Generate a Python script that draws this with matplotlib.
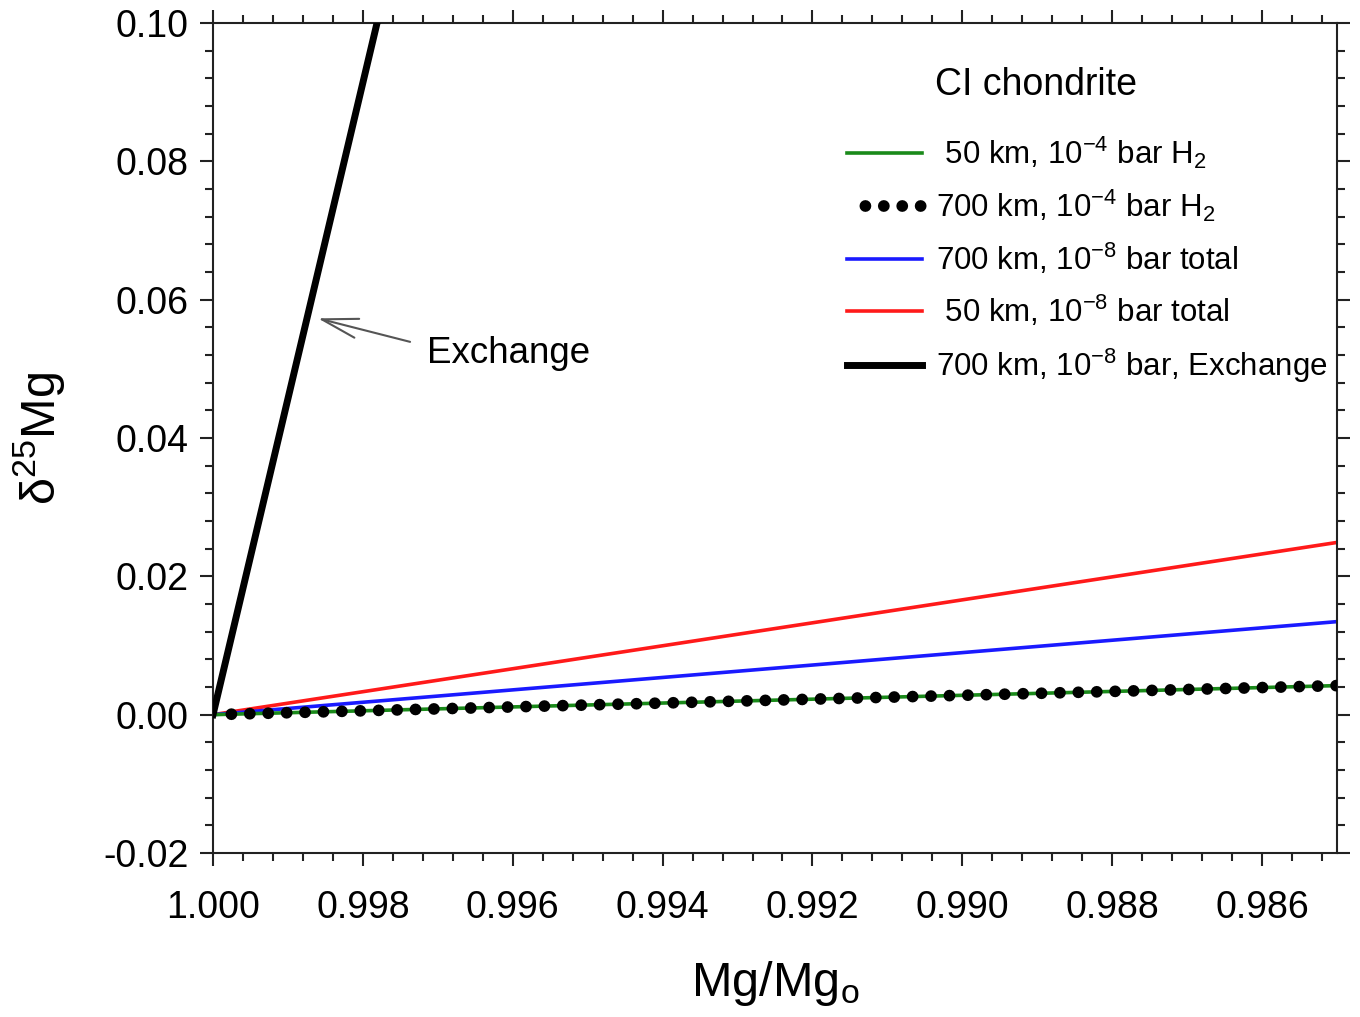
import matplotlib
matplotlib.use("Agg")
import matplotlib.pyplot as plt
from matplotlib.ticker import MultipleLocator, FormatStrFormatter

plt.rcParams['font.family'] = ['Liberation Sans', 'DejaVu Sans']
plt.rcParams['mathtext.default'] = 'regular'
plt.rcParams['axes.unicode_minus'] = False

# Data (Mg/Mg0 and delta25Mg)
x_green = [1.000, 0.995, 0.990, 0.985]
y_green = [0.0, 0.0014, 0.0028, 0.0042]
x_dots = [1.000, 0.995, 0.990, 0.985]
y_dots = [0.0, 0.0014, 0.0028, 0.0042]
x_blue = [1.000, 0.995, 0.990, 0.985]
y_blue = [0.0, 0.00448, 0.00897, 0.01345]
x_red = [1.000, 0.995, 0.990, 0.985]
y_red = [0.0, 0.0083, 0.0166, 0.0249]
x_exch = [1.000, 0.9978]
y_exch = [0.0, 0.1005]

labels = [r' 50 km, 10$^{-4}$ bar H$_2$',
          r'700 km, 10$^{-4}$ bar H$_2$',
          r'700 km, 10$^{-8}$ bar total',
          r' 50 km, 10$^{-8}$ bar total',
          r'700 km, 10$^{-8}$ bar, Exchange']

fig = plt.figure(figsize=(13.6, 10.17), dpi=100)
ax = fig.add_axes([213/1360, 1-853/1017, (1337-213)/1360, (853-23)/1017])

l_red, = ax.plot(x_red, y_red, color='#ff1a1a', lw=2.6, zorder=2)
l_blue, = ax.plot(x_blue, y_blue, color='#1a1aff', lw=2.6, zorder=2)
l_green, = ax.plot(x_green, y_green, color='#1a8a1a', lw=2.6, zorder=3)
l_dots, = ax.plot(x_dots, y_dots, color='black', lw=8.5,
                  linestyle=(0.001, (0.0001, 1.56)), dash_capstyle='round', zorder=4)
l_exch, = ax.plot(x_exch, y_exch, color='black', lw=5, zorder=5)

ax.set_xlim(1.000, 0.985)
ax.set_ylim(-0.02, 0.10)

ax.xaxis.set_major_locator(MultipleLocator(0.002))
ax.xaxis.set_minor_locator(MultipleLocator(0.0004))
ax.yaxis.set_major_locator(MultipleLocator(0.02))
ax.yaxis.set_minor_locator(MultipleLocator(0.004))
ax.xaxis.set_major_formatter(FormatStrFormatter('%.3f'))
ax.yaxis.set_major_formatter(FormatStrFormatter('%.2f'))

ax.tick_params(which='both', direction='out', top=True, right=True, width=1.5, color='#222222')
ax.tick_params(which='major', length=9.5, labelsize=27, pad=8)
ax.tick_params(axis='x', which='major', pad=17)
ax.tick_params(which='minor', length=5.8)
for s in ax.spines.values():
    s.set_linewidth(1.5)
    s.set_color('#222222')

ax.set_xlabel(r'Mg/Mg$_o$', fontsize=35, labelpad=24)
ax.set_ylabel(r'δ$^{25}$Mg', fontsize=35, labelpad=26)

ax.annotate('', xy=(0.9986, 0.0573), xytext=(0.99737, 0.0539),
            arrowprops=dict(arrowstyle='->,head_length=1.3,head_width=0.35',
                            color='#555555', lw=1.5, mutation_scale=20, shrinkA=0, shrinkB=0))
ax.text(0.99715, 0.0522, 'Exchange', fontsize=26.5, ha='left', va='center')

ax.text(0.642, 0.925, 'CI chondrite', transform=ax.transAxes, fontsize=27,
        ha='left', va='center')

leg = ax.legend([l_green, l_dots, l_blue, l_red, l_exch], labels,
                loc='upper left', bbox_to_anchor=(0.564, 0.866), frameon=False,
                fontsize=22.5, handlelength=2.4, handletextpad=0.45,
                labelspacing=0.55, borderpad=0, borderaxespad=0)

fig.savefig('out.png', dpi=100)
